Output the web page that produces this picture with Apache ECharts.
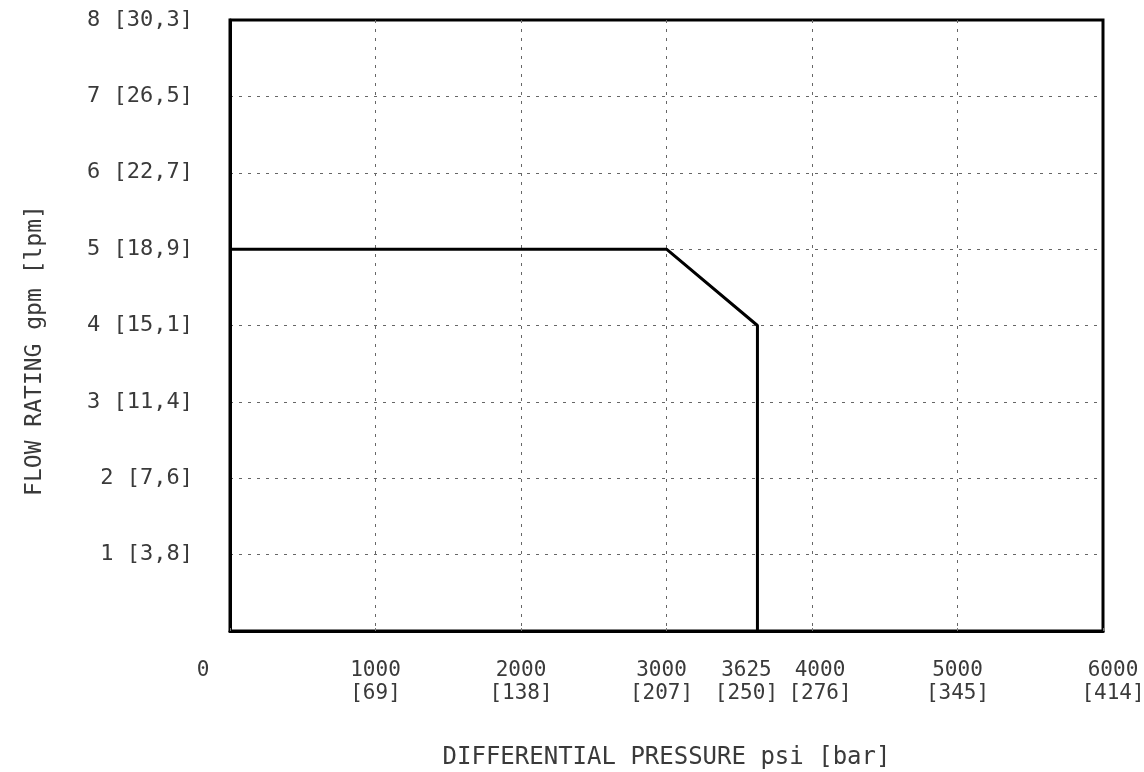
<!DOCTYPE html>
<html>
<head>
<meta charset="utf-8">
<script src="https://cdn.jsdelivr.net/npm/echarts@6/dist/echarts.min.js"></script>
<style>
  html, body { margin: 0; padding: 0; background: #fff; }
  #chart { width: 1144px; height: 772px; }
</style>
</head>
<body>
<div id="chart"></div>
<script>
// curve: flow rating vs differential pressure
const pressurePsi = [0, 3000, 3625, 3625];
const flowGpm = [5, 5, 4, 0];

// x axis labels: psi with bar underneath
const xLabelPsi = [0, 1000, 2000, 3000, 3625, 4000, 5000, 6000];
const xLabelBar = ['', '[69]', '[138]', '[207]', '[250]', '[276]', '[345]', '[414]'];

// y axis labels: gpm with lpm
const yLabelGpm = [1, 2, 3, 4, 5, 6, 7, 8];
const yLabelLpm = ['[3,8]', '[7,6]', '[11,4]', '[15,1]', '[18,9]', '[22,7]', '[26,5]', '[30,3]'];

const FONT = 'DejaVu Sans Mono';
const TEXT = '#3a3a3a';

// nudge a few x labels sideways like the original drawing
const shift = { 0: -27, 3000: -5, 3625: -11, 4000: 8, 6000: 10 };

const rich = {};
xLabelPsi.forEach((v) => {
  const s = shift[v] || 0;
  rich['p' + v] = {
    fontFamily: FONT, fontSize: 21, color: TEXT, lineHeight: 23,
    padding: s < 0 ? [0, -2 * s, 0, 0] : [0, 0, 0, 2 * s]
  };
});

const chart = echarts.init(document.getElementById('chart'));
chart.setOption({
  backgroundColor: '#fff',
  animation: false,
  grid: {
    left: 230, right: 41, top: 20, bottom: 141,
    outerBoundsMode: 'none',
    show: true, borderColor: '#000', borderWidth: 3, backgroundColor: 'transparent'
  },
  xAxis: {
    type: 'value',
    min: 0, max: 6000, interval: 1000,
    name: 'DIFFERENTIAL PRESSURE psi [bar]',
    nameLocation: 'middle',
    nameGap: 115,
    nameTextStyle: { fontFamily: FONT, fontSize: 24, color: TEXT },
    axisLine: { show: true, lineStyle: { color: '#000', width: 3 } },
    axisTick: { show: true, inside: true, length: 3, lineStyle: { color: '#777', width: 1 } },
    splitLine: { show: true, showMinLine: false, showMaxLine: false, lineStyle: { color: '#666', width: 1, type: [3, 6] } },
    axisLabel: {
      customValues: xLabelPsi,
      margin: 28,
      showMinLabel: true, showMaxLabel: true,
      formatter: (value) => {
        const i = xLabelPsi.indexOf(value);
        const key = 'p' + value;
        return xLabelBar[i] ? '{' + key + '|' + value + '}\n{' + key + '|' + xLabelBar[i] + '}' : '{' + key + '|' + value + '}';
      },
      rich: rich
    }
  },
  yAxis: {
    type: 'value',
    min: 0, max: 8, interval: 1,
    name: 'FLOW RATING gpm [lpm]',
    nameLocation: 'middle',
    nameGap: 183,
    nameRotate: 90,
    nameTextStyle: { fontFamily: FONT, fontSize: 23, color: TEXT, padding: [0, 50, 0, 0] },
    axisLine: { show: true, lineStyle: { color: '#000', width: 3 } },
    axisTick: { show: false },
    splitLine: { show: true, showMinLine: false, showMaxLine: false, lineStyle: { color: '#666', width: 1, type: [3, 6] } },
    axisLabel: {
      margin: 37,
      fontFamily: FONT, fontSize: 22, color: TEXT,
      formatter: (value) => {
        const i = yLabelGpm.indexOf(value);
        return i < 0 ? '' : value + ' ' + yLabelLpm[i];
      }
    }
  },
  series: [{
    type: 'line',
    data: pressurePsi.map((p, i) => [p, flowGpm[i]]),
    symbol: 'none',
    lineStyle: { color: '#000', width: 3 },
    z: 5
  }]
});
</script>
</body>
</html>
